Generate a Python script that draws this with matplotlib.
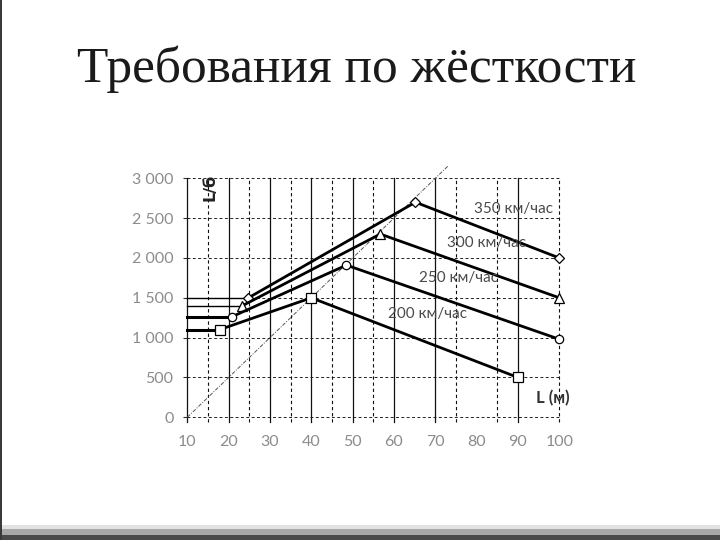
import matplotlib
matplotlib.use("Agg")
import matplotlib.pyplot as plt
from matplotlib.patches import Rectangle

# --- data ---
speeds = ["350 км/час", "300 км/час", "250 км/час", "200 км/час"]
span_350 = [10, 24.8, 65.2, 100]
ratio_350 = [1500, 1500, 2700, 2000]
span_300 = [10, 23.3, 56.7, 100]
ratio_300 = [1400, 1400, 2300, 1500]
span_250 = [10, 20.7, 48.5, 100]
ratio_250 = [1260, 1260, 1910, 980]
span_200 = [10, 17.8, 40, 90]
ratio_200 = [1100, 1100, 1500, 500]

ref_x = [10, 73]       # dotted limit line
ref_y = [0, 3150]

label_x = [88.9, 82.3, 75.6, 68.0]
label_y = [2615, 2190, 1745, 1297]

x_ticks = [10, 20, 30, 40, 50, 60, 70, 80, 90, 100]
y_ticks = [0, 500, 1000, 1500, 2000, 2500, 3000]
y_tick_labels = ["0", "500", "1 000", "1 500", "2 000", "2 500", "3 000"]
solid_vlines = [10, 20, 30, 40, 50, 60, 70, 90]
dashed_vlines = [15, 25, 35, 45, 55, 75, 85, 100]

fig = plt.figure(figsize=(7.2, 5.4), dpi=100)
fig.patch.set_facecolor("white")

# slide shadow along the bottom and left edge
fig.add_artist(Rectangle((0, 0), 1, 0.010, transform=fig.transFigure, color="#4a4a4a", lw=0))
fig.add_artist(Rectangle((0, 0.010), 1, 0.010, transform=fig.transFigure, color="#a8a8a8", lw=0))
fig.add_artist(Rectangle((0, 0.020), 1, 0.008, transform=fig.transFigure, color="#e2e2e2", lw=0))
fig.add_artist(Rectangle((0, 0), 0.003, 1, transform=fig.transFigure, color="#3a3a3a", lw=0))

fig.text(0.496, 0.848, "Требования по жёсткости", ha="center", va="baseline",
         fontsize=37, family="Liberation Serif", color="#1a1a1a")

ax = fig.add_axes([0.2601, 0.2272, 0.5167, 0.4426])
ax.set_xlim(10, 100)
ax.set_ylim(0, 3000)
for s in ax.spines.values():
    s.set_visible(False)

# grid
for y in y_ticks:
    ax.plot([10, 100], [y, y], color="#222222", lw=0.7, ls=(0, (3, 2.5)), clip_on=False)
for x in solid_vlines:
    ax.plot([x, x], [-60, 3000], color="#111111", lw=0.9, clip_on=False)
for x in dashed_vlines:
    ax.plot([x, x], [-60, 3000], color="#111111", lw=0.8, ls=(0, (3, 2.5)), clip_on=False)

ax.plot(ref_x, ref_y, color="#555555", lw=0.7, ls=(0, (4, 1.5, 1, 1.5)), clip_on=False)

series = [
    (span_350, ratio_350, "D", 5, 1.0),
    (span_300, ratio_300, "^", 7, 1.0),
    (span_250, ratio_250, "o", 6, 2.2),
    (span_200, ratio_200, "s", 7, 2.2),
]
for xs, ys, mk, ms, flat_lw in series:
    ax.plot(xs[:2], ys[:2], color="black", lw=flat_lw, clip_on=False)
    ax.plot(xs[1:], ys[1:], color="black", lw=2.0, marker=mk, ms=ms,
            mfc="white", mec="black", mew=0.9, clip_on=False, zorder=5)

for name, lx, ly in zip(speeds, label_x, label_y):
    ax.text(lx, ly, name, ha="center", va="center", fontsize=11,
            family="Lato", color="#4a4a4a", zorder=6)

ax.text(98.5, 240, "L (м)", ha="center", va="center", fontsize=12,
        family="Lato", color="#333333", fontweight="bold")
ax.text(15.6, 2890, "L/б", ha="center", va="center", fontsize=11.5, rotation=90,
        family="DejaVu Sans", color="#222222", fontweight="bold")

ax.set_xticks(x_ticks)
ax.set_yticks(y_ticks)
ax.set_yticklabels(y_tick_labels)
ax.tick_params(axis="x", length=0, pad=13, labelsize=11.5, labelcolor="#8c8c8c")
ax.tick_params(axis="y", length=3, pad=7, labelsize=11.5, labelcolor="#8c8c8c", color="#333333")
for lab in ax.get_xticklabels() + ax.get_yticklabels():
    lab.set_family("Lato")

fig.savefig("out.png", dpi=100)
